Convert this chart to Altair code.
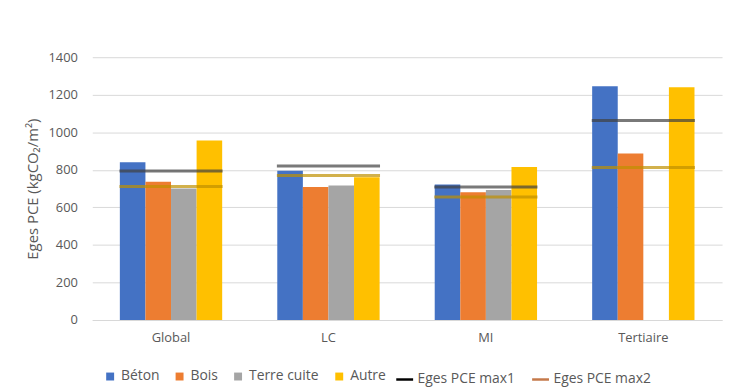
import altair as alt
import pandas as pd

categories = ["Global", "LC", "MI", "Tertiaire"]
materials = ["Béton", "Bois", "Terre cuite", "Autre"]
beton = [840, 795, 722, 1245]
bois = [736, 708, 680, 887]
terre_cuite = [701, 717, 692, None]
autre = [956, 760, 815, 1240]
series_names = ["Eges PCE max1", "Eges PCE max2"]
max1 = [794, 820, 708, 1063]
max2 = [711, 770, 655, 812]

bar_colors = ["#4472C4", "#ED7D31", "#A5A5A5", "#FFC000"]
line_colors = ["#404040", "#BF9000"]
legend_line_colors = ["#000000", "#C5794A"]

rows = []
for mat, vals in zip(materials, [beton, bois, terre_cuite, autre]):
    for c, v in zip(categories, vals):
        rows.append({"cat": c, "mat": mat, "val": v})
bars_df = pd.DataFrame(rows)

lrows = []
for s, vals in zip(series_names, [max1, max2]):
    for c, v in zip(categories, vals):
        lrows.append({"cat": c, "series": s, "val": v})
lines_df = pd.DataFrame(lrows)

FONT = "Open Sans"
GREY = "#595959"

x_enc = alt.X(
    "cat:N",
    sort=categories,
    title=None,
    scale=alt.Scale(paddingInner=0.35, paddingOuter=0.175),
    axis=alt.Axis(labelAngle=0, ticks=False, domainColor="#D9D9D9", grid=False,
                  labelPadding=12, labelFontSize=13, labelColor=GREY, labelFont=FONT),
)
y_enc = alt.Y(
    "val:Q",
    title="Eges PCE (kgCO₂/m²)",
    scale=alt.Scale(domain=[0, 1400], nice=False),
    axis=alt.Axis(values=list(range(0, 1401, 200)), format="d", domain=False, ticks=False,
                  labelOverlap=False, labelFlush=False,
                  gridColor="#D9D9D9", labelPadding=15, labelFontSize=13,
                  labelColor=GREY, labelFont=FONT, titleFont=FONT, titleFontSize=15,
                  titleFontWeight="normal", titleColor=GREY, titlePadding=8),
)

color_scale = alt.Scale(domain=materials + series_names, range=bar_colors + line_colors)

bars = alt.Chart(bars_df).mark_bar().encode(
    x=x_enc,
    xOffset=alt.XOffset("mat:N", sort=materials,
                        scale=alt.Scale(domain=materials, paddingInner=0, paddingOuter=0)),
    y=y_enc,
    color=alt.Color("mat:N", scale=color_scale,
                    legend=alt.Legend(values=materials, title=None, orient="none",
                                      legendX=11, legendY=315,
                                      direction="horizontal", symbolType="square",
                                      symbolSize=64, labelFontSize=14, labelColor=GREY,
                                      labelFont=FONT, columnPadding=13, labelOffset=4,
                                      symbolStrokeWidth=0)),
)

ticks = alt.Chart(lines_df).mark_tick(thickness=3, size=104, orient="horizontal").encode(
    x=x_enc,
    y=y_enc,
    color=alt.Color("series:N", scale=color_scale, legend=None),
)

legend_df = pd.DataFrame({"series": series_names})
legend_layer = alt.Chart(legend_df).mark_rule(strokeWidth=2.5).encode(
    x=alt.value(0),
    y=alt.value(0),
    y2=alt.value(0),
    stroke=alt.Stroke("series:N",
                      scale=alt.Scale(domain=series_names, range=legend_line_colors),
                      legend=alt.Legend(title=None, orient="none", legendX=305, legendY=315,
                                        direction="horizontal",
                                        symbolType="stroke", symbolSize=289,
                                        symbolStrokeWidth=2.5, labelFontSize=14,
                                        labelColor=GREY, labelFont=FONT, columnPadding=11,
                                        labelOffset=3)),
)

chart = alt.layer(bars, ticks, legend_layer).properties(
    width=635, height=265,
    background="white",
    padding={"left": 17, "top": 42, "right": 5, "bottom": 5},
).configure_view(stroke=None)

chart.save("out.html", embed_options={"renderer": "svg", "actions": False})
